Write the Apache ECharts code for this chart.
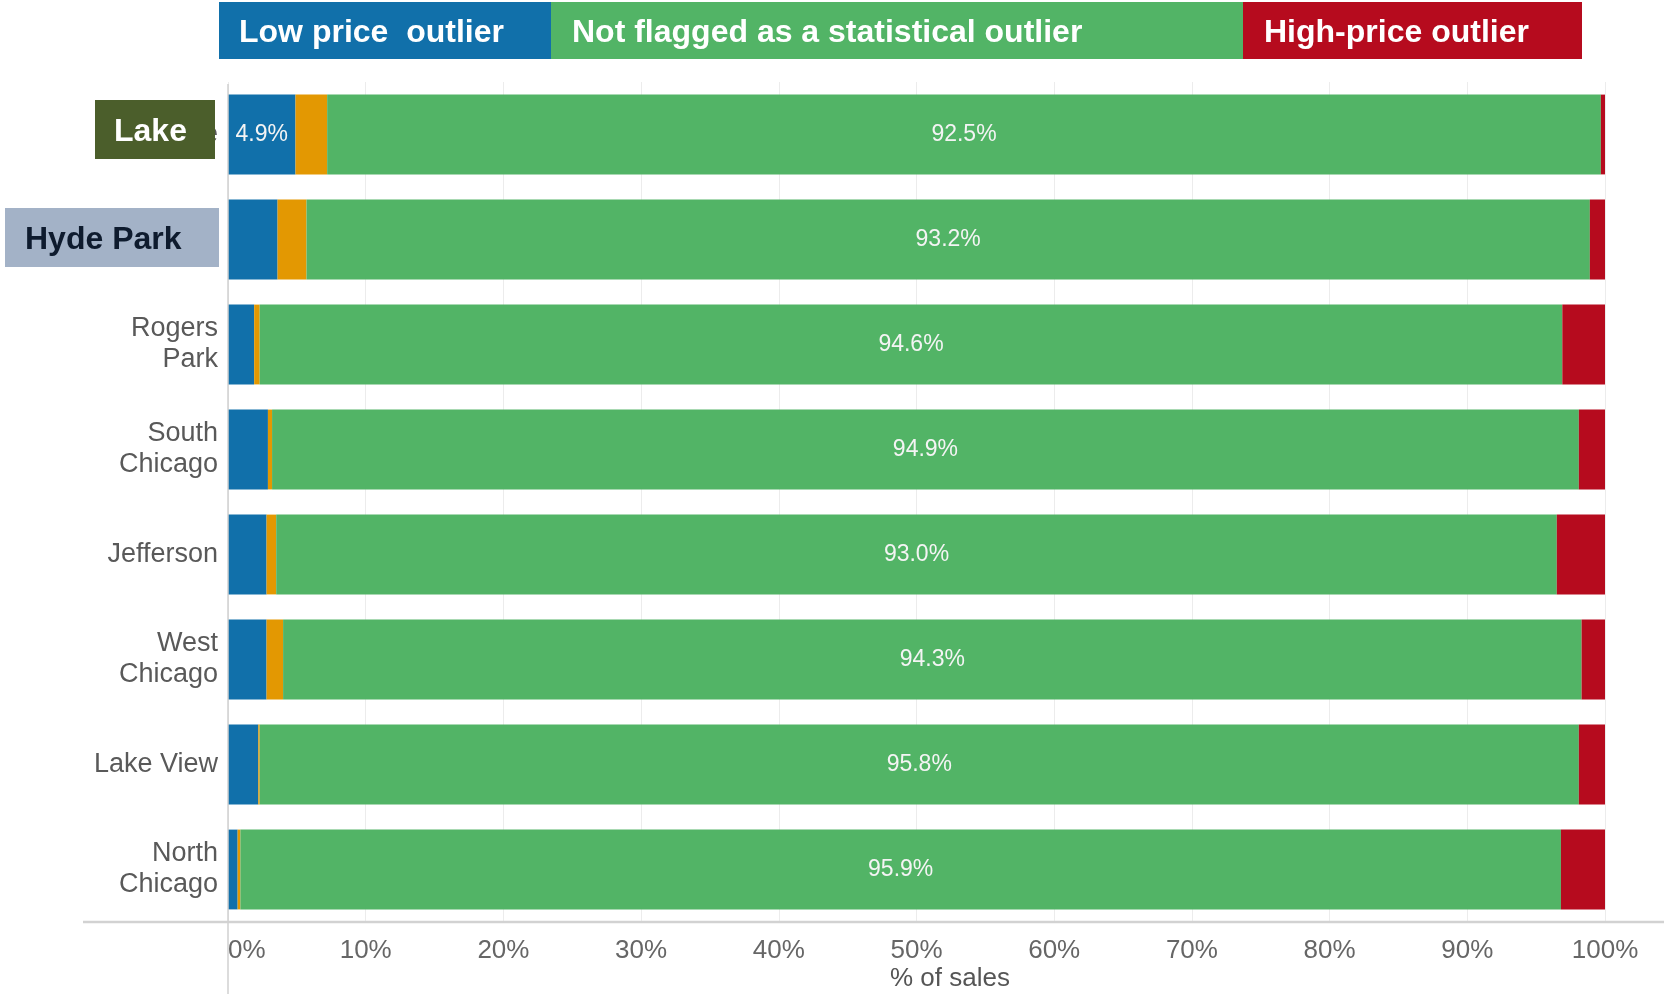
<!DOCTYPE html>
<html>
<head>
<meta charset="utf-8">
<script src="https://cdn.jsdelivr.net/npm/echarts@6/dist/echarts.min.js"></script>
<style>
html,body{margin:0;padding:0;background:#fff;}
#chart{width:1664px;height:994px;}
</style>
</head>
<body>
<div id="chart"></div>
<script>
const categories = ['Lake', 'Hyde Park', 'Rogers\nPark', 'South\nChicago', 'Jefferson', 'West\nChicago', 'Lake View', 'North\nChicago'];
const lowPrice   = [4.9, 3.6, 1.9, 2.9, 2.8, 2.8, 2.2, 0.7];
const otherShare = [2.3, 2.1, 0.4, 0.3, 0.7, 1.2, 0.1, 0.2];
const notFlagged = [92.5, 93.2, 94.6, 94.9, 93.0, 94.3, 95.8, 95.9];
const highPrice  = [0.3, 1.1, 3.1, 1.9, 3.5, 1.7, 1.9, 3.2];
const xTicks = [0, 10, 20, 30, 40, 50, 60, 70, 80, 90, 100];
const legendNames = ['Low price  outlier', 'Not flagged as a statistical outlier', 'High-price outlier'];

const BLUE = '#1170AA', ORANGE = '#E39802', GREEN = '#52B466', RED = '#B60B1E';
const SANS = "'Liberation Sans', Arial, sans-serif";

const chart = echarts.init(document.getElementById('chart'), null, {renderer: 'canvas'});

const dataLabel = {
  show: true, position: 'inside', color: '#f4f4f4',
  fontFamily: SANS, fontSize: 23,
  formatter: p => p.value.toFixed(1) + '%'
};

const option = {
  animation: false,
  backgroundColor: '#ffffff',
  grid: {left: 228, right: 59, top: 82, bottom: 72, containLabel: false},
  xAxis: {
    type: 'value', min: xTicks[0], max: xTicks[xTicks.length - 1], interval: 10,
    axisLine: {show: false}, axisTick: {show: false},
    splitLine: {show: true, lineStyle: {color: '#ececec', width: 1}},
    axisLabel: {
      formatter: '{value}%', color: '#666', fontFamily: SANS, fontSize: 26,
      margin: 16, alignMinLabel: 'left'
    }
  },
  yAxis: {
    type: 'category', data: categories, inverse: true,
    axisLine: {show: false}, axisTick: {show: false},
    axisLabel: {color: '#595959', fontFamily: SANS, fontSize: 27, lineHeight: 31, margin: 10, align: 'right'}
  },
  series: [
    {name: legendNames[0], type: 'bar', stack: 'total', barCategoryGap: '24%',
     itemStyle: {color: BLUE},
     data: lowPrice.map((v, i) => i === 0 ? {value: v, label: dataLabel} : v)},
    {name: 'Other', type: 'bar', stack: 'total', itemStyle: {color: ORANGE}, data: otherShare},
    {name: legendNames[1], type: 'bar', stack: 'total', itemStyle: {color: GREEN},
     label: dataLabel, data: notFlagged},
    {name: legendNames[2], type: 'bar', stack: 'total', itemStyle: {color: RED}, data: highPrice}
  ],
  graphic: [
    {type: 'line', z: 50, shape: {x1: 83, y1: 922, x2: 1664, y2: 922}, style: {stroke: '#d2d2d2', lineWidth: 2.5}},
    {type: 'line', z: 50, shape: {x1: 228, y1: 84, x2: 228, y2: 994}, style: {stroke: '#d0d0d0', lineWidth: 1.5}},
    {type: 'text', z: 50, x: 950, y: 979, style: {text: '% of sales', fill: '#555', font: '26px ' + SANS, textAlign: 'center', textVerticalAlign: 'middle'}},
    {type: 'rect', z: 100, shape: {x: 219, y: 2, width: 332, height: 57}, style: {fill: BLUE}},
    {type: 'rect', z: 100, shape: {x: 551, y: 2, width: 692, height: 57}, style: {fill: GREEN}},
    {type: 'rect', z: 100, shape: {x: 1243, y: 2, width: 339, height: 57}, style: {fill: RED}},
    {type: 'text', z: 101, x: 239, y: 33, style: {text: legendNames[0], fill: '#fff', font: 'bold 32px ' + SANS, textVerticalAlign: 'middle'}},
    {type: 'text', z: 101, x: 572, y: 33, style: {text: legendNames[1], fill: '#fff', font: 'bold 32px ' + SANS, textVerticalAlign: 'middle'}},
    {type: 'text', z: 101, x: 1264, y: 33, style: {text: legendNames[2], fill: '#fff', font: 'bold 32px ' + SANS, textVerticalAlign: 'middle'}},
    {type: 'rect', z: 100, shape: {x: 95, y: 100, width: 120, height: 59}, style: {fill: '#4B5E2B'}},
    {type: 'text', z: 101, x: 114, y: 132, style: {text: 'Lake', fill: '#fff', font: 'bold 32px ' + SANS, textVerticalAlign: 'middle'}},
    {type: 'rect', z: 100, shape: {x: 5, y: 208, width: 214, height: 59}, style: {fill: '#A3B2C7'}},
    {type: 'text', z: 101, x: 25, y: 240, style: {text: 'Hyde Park', fill: '#0E1B2E', font: 'bold 32px ' + SANS, textVerticalAlign: 'middle'}}
  ]
};
chart.setOption(option);
</script>
</body>
</html>
